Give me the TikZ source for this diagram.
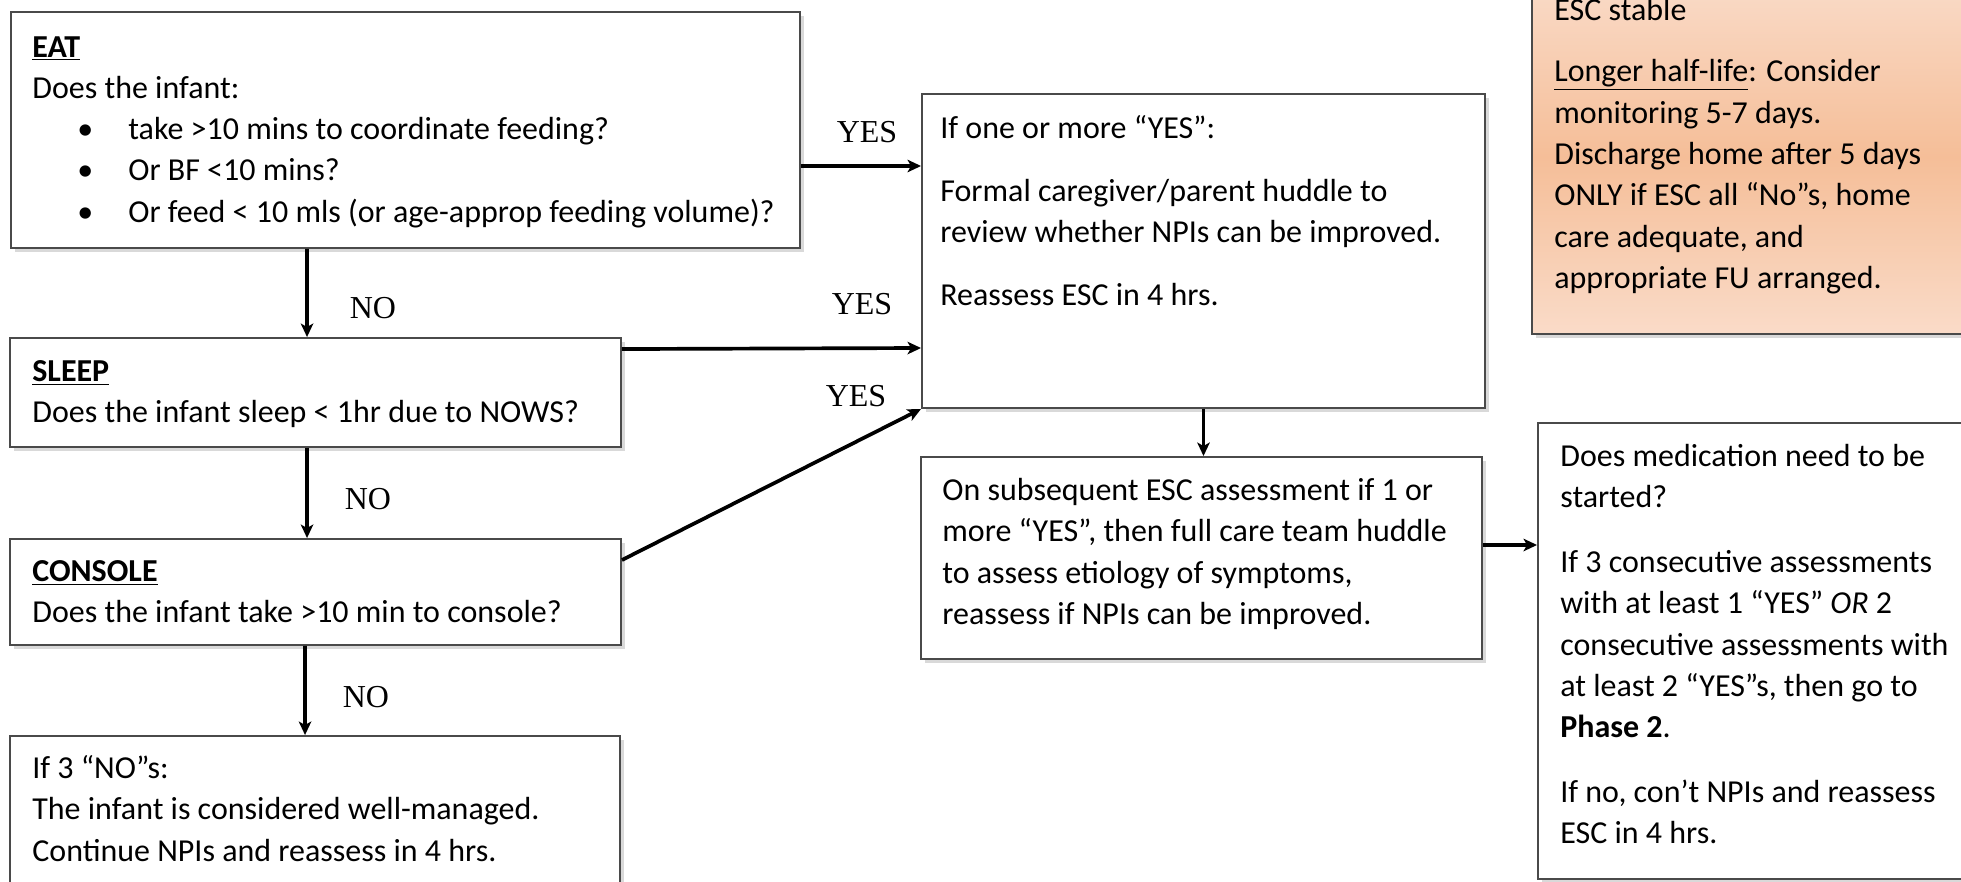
\documentclass[tikz,border=0pt]{standalone}
\usepackage{fontspec}
\setmainfont{Carlito}
\newfontfamily\yesnofont{Liberation Serif}
\usetikzlibrary{positioning,arrows.meta,shadows}

\definecolor{peachlight}{HTML}{FADBC8}
\definecolor{peach}{HTML}{F5BE98}
\definecolor{rim}{HTML}{4A4A4A}

\newcommand{\bul}{\hspace*{0.9cm}\makebox[1.02cm][l]{\textbullet}}

\begin{document}
\begin{tikzpicture}[
    every node/.style={font=\fontsize{18.2pt}{23.5pt}\selectfont},
    box/.style={rectangle,draw=rim,line width=1.1pt,fill=white,inner sep=0pt,
        drop shadow={shadow xshift=0.07cm,shadow yshift=-0.08cm,opacity=0.3}},
    note/.style={box,top color=peachlight,bottom color=peachlight,middle color=peach},
    txt/.style={anchor=north west,align=left,inner sep=0pt},
    lbl/.style={font=\yesnofont\fontsize{18.2pt}{22pt}\selectfont},
    arr/.style={-{Stealth[length=0.27cm,width=0.25cm,inset=0.07cm]},line width=2.1pt}
]
\useasboundingbox (0,0) rectangle (39.22,-17.64);

% Left column: the three ESC questions
\node[box,minimum width=15.78cm,minimum height=4.72cm] (eat)     at (8.11,-2.60)  {};
\node[box,minimum width=12.22cm,minimum height=2.18cm] (sleep)   at (6.31,-7.85)  {};
\node[box,minimum width=12.22cm,minimum height=2.12cm] (console) at (6.31,-11.84) {};
\node[box,minimum width=12.20cm,minimum height=3.18cm] (calm)    at (6.30,-16.31) {};

% Middle and right column
\node[box,minimum width=11.26cm,minimum height=6.28cm] (huddle)  at (24.07,-5.02)  {};
\node[box,minimum width=11.22cm,minimum height=4.04cm] (team)    at (24.03,-11.16) {};
\node[box,minimum width=9.44cm,minimum height=9.12cm]  (meds)    at (35.48,-13.02) {};
\node[note,minimum width=9.56cm,minimum height=7.08cm] (longhl)  at (35.42,-3.14)  {};

% Box texts
\node[txt] (eattxt) at (0.64,-0.72) {\underline{\textbf{EAT}}\\
    Does the infant:\\
    \bul take >10 mins to coordinate feeding?\\
    \bul Or BF <10 mins?\\
    \bul Or feed < 10 mls (or age-approp feeding volume)?};
\node[txt] (sleeptxt) at (0.64,-7.20) {\underline{\textbf{SLEEP}}\\
    Does the infant sleep < 1hr due to NOWS?};
\node[txt] (consoletxt) at (0.64,-11.20) {\underline{\textbf{CONSOLE}}\\
    Does the infant take >10 min to console?};
\node[txt] (calmtxt) at (0.64,-15.10) {If 3 “NO”s:\\
    The infant is considered well-managed.\\
    Continue NPIs and reassess in 4 hrs.};
\node[txt] (huddletxt) at (18.80,-2.30) {If one or more “YES”:\\[0.43cm]
    Formal caregiver/parent huddle to\\
    review whether NPIs can be improved.\\[0.43cm]
    Reassess ESC in 4 hrs.};
\node[txt] (teamtxt) at (18.84,-9.56) {On subsequent ESC assessment if 1 or\\
    more “YES”, then full care team huddle\\
    to assess etiology of symptoms,\\
    reassess if NPIs can be improved.};
\node[txt] (medstxt) at (31.20,-8.88) {Does medication need to be\\
    started?\\[0.47cm]
    If 3 consecutive assessments\\
    with at least 1 “YES” \textit{OR} 2\\
    consecutive assessments with\\
    at least 2 “YES”s, then go to\\
    \textbf{Phase 2}.\\[0.47cm]
    If no, con’t NPIs and reassess\\
    ESC in 4 hrs.};
\node[txt] (longhltxt) at (31.08,0.04) {ESC stable\\[0.4cm]
    \underline{Longer half-life}: Consider\\
    monitoring 5-7 days.\\
    Discharge home after 5 days\\
    ONLY if ESC all “No”s, home\\
    care adequate, and\\
    appropriate FU arranged.};

% NO path down the left
\draw[arr] ([xshift=5.94cm]eat.south west) -- ([xshift=5.96cm]sleep.north west);
\draw[arr] ([xshift=5.96cm]sleep.south west) -- ([xshift=5.96cm]console.north west);
\draw[arr] ([xshift=5.92cm]console.south west) -- ([xshift=5.92cm]calm.north west);
\node[lbl] (no1) at (7.46,-6.16)  {NO};
\node[lbl] (no2) at (7.36,-9.98)  {NO};
\node[lbl] (no3) at (7.32,-13.94) {NO};

% YES paths to the huddle
\draw[arr] ([yshift=-0.72cm]eat.east) -- ([yshift=-0.72cm]eat.east -| huddle.west);
\draw[arr] ([yshift=-0.24cm]sleep.north east) -- ([yshift=-1.94cm]huddle.west);
\draw[arr] ([yshift=0.64cm]console.east) -- (huddle.south west);
\node[lbl] (yes1) at (17.34,-2.64) {YES};
\node[lbl] (yes2) at (17.24,-6.08) {YES};
\node[lbl] (yes3) at (17.12,-7.92) {YES};

% Follow-up
\draw[arr] (huddle.south) -- (huddle.south |- team.north);
\draw[arr] ([yshift=0.26cm]team.east) -- ([yshift=0.26cm]team.east -| meds.west);

\end{tikzpicture}
\end{document}
